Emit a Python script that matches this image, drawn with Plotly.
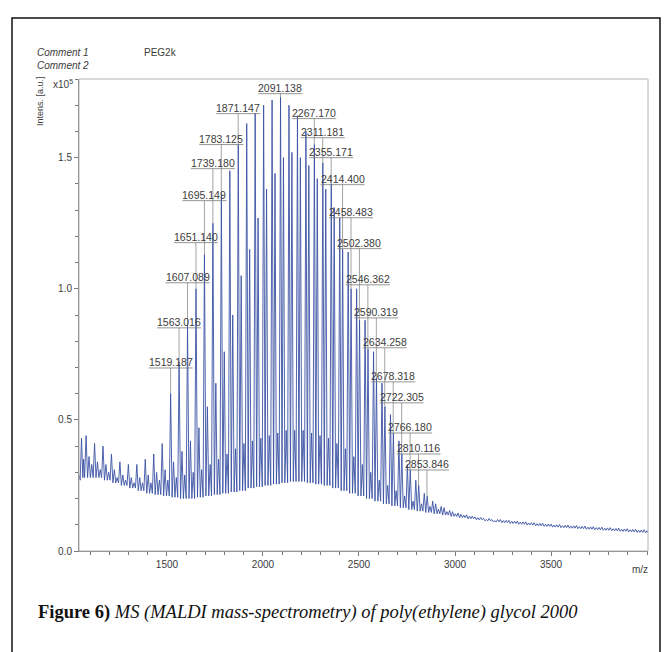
import plotly.graph_objects as go

# ---------------- data ----------------
# m/z of the main oligomer series (spacing ~44 Da, PEG repeat unit)
mz_A = [1078.9, 1123.0, 1167.0, 1211.0, 1255.0, 1299.1, 1343.1, 1387.1, 1431.1, 1475.2,
        1519.2, 1563.2, 1607.2, 1651.3, 1695.3, 1739.3, 1783.3, 1827.4, 1871.4, 1915.4,
        1959.4, 2003.5, 2047.5, 2091.5, 2135.5, 2179.6, 2223.6, 2267.6, 2311.7, 2355.7,
        2399.7, 2443.7, 2487.8, 2531.8, 2575.8, 2619.8, 2663.9, 2707.9, 2751.9, 2795.9,
        2840.0, 2884.0, 2928.0, 2972.1, 3016.1, 3060.1, 3104.1, 3148.2, 3192.2, 3236.2,
        3280.2, 3324.3, 3368.3, 3412.3, 3456.3, 3500.4, 3544.4, 3588.4, 3632.4, 3676.5,
        3720.5, 3764.5, 3808.6, 3852.6, 3896.6, 3940.6, 3984.7]
# intensities (x10^5 a.u.)
peak_A = [0.44, 0.41, 0.40, 0.37, 0.34, 0.33, 0.33, 0.35, 0.37, 0.41,
          0.60, 0.72, 0.86, 1.00, 1.13, 1.25, 1.36, 1.45, 1.55, 1.63,
          1.67, 1.70, 1.72, 1.73, 1.70, 1.66, 1.60, 1.55, 1.48, 1.40,
          1.27, 1.14, 1.00, 0.88, 0.76, 0.64, 0.52, 0.42, 0.33, 0.27,
          0.22, 0.19, 0.17, 0.155, 0.145, 0.138, 0.13, 0.125, 0.12, 0.12,
          0.117, 0.114, 0.111, 0.108, 0.106, 0.103, 0.101, 0.099, 0.097, 0.095,
          0.093, 0.091, 0.089, 0.087, 0.085, 0.083, 0.081]
# second series (+15.2 Da)
shift_B = 15.2
peak_B = [0.36, 0.34, 0.33, 0.31, 0.29, 0.28, 0.28, 0.29, 0.30, 0.31,
          0.34, 0.38, 0.42, 0.47, 0.55, 0.64, 0.76, 0.90, 1.05, 1.15,
          1.27, 1.38, 1.44, 1.50, 1.52, 1.50, 1.47, 1.42, 1.38, 1.31,
          1.15, 1.00, 0.88, 0.77, 0.66, 0.55, 0.45, 0.37, 0.31, 0.25,
          0.21, 0.18, 0.165, 0.15, 0.14, 0.133, 0.127, 0.12, 0.115, 0.116,
          0.113, 0.110, 0.107, 0.104, 0.102, 0.099, 0.097, 0.095, 0.093, 0.091,
          0.089, 0.087, 0.085, 0.083, 0.081, 0.079, 0.077]
# third, small series (+29.5 Da)
shift_C = 29.5
peak_C = [0.33, 0.31, 0.30, 0.28, 0.27, 0.26, 0.26, 0.26, 0.27, 0.27,
          0.28, 0.29, 0.30, 0.31, 0.33, 0.35, 0.37, 0.39, 0.41, 0.42,
          0.43, 0.44, 0.45, 0.46, 0.46, 0.46, 0.45, 0.44, 0.43, 0.41,
          0.39, 0.36, 0.33, 0.30, 0.27, 0.25, 0.23, 0.21, 0.19, 0.18,
          0.17, 0.16, 0.15, 0.142, 0.137, 0.132, 0.128, 0.124, 0.12, 0.117,
          0.114, 0.111, 0.108, 0.105, 0.103, 0.100, 0.098, 0.096, 0.094, 0.092,
          0.090, 0.088, 0.086, 0.084, 0.082, 0.080, 0.078]
# baseline level (valleys) in each 44 Da period
floor_lv = [0.28, 0.28, 0.27, 0.26, 0.25, 0.24, 0.23, 0.22, 0.215, 0.21,
            0.205, 0.20, 0.20, 0.205, 0.21, 0.215, 0.22, 0.225, 0.23, 0.24,
            0.245, 0.25, 0.255, 0.26, 0.265, 0.265, 0.26, 0.255, 0.25, 0.24,
            0.23, 0.22, 0.21, 0.20, 0.19, 0.18, 0.172, 0.165, 0.158, 0.152,
            0.147, 0.142, 0.137, 0.132, 0.127, 0.123, 0.119, 0.115, 0.111, 0.108,
            0.105, 0.102, 0.099, 0.096, 0.094, 0.091, 0.089, 0.087, 0.085, 0.083,
            0.081, 0.079, 0.077, 0.075, 0.073, 0.071, 0.069]
# beginning of the trace before the first full period
lead_mz = [1042, 1048, 1055, 1062, 1066, 1071]
lead_val = [0.29, 0.27, 0.43, 0.28, 0.35, 0.28]

# peak labels
label_text = ["1519.187", "1563.016", "1607.089", "1651.140", "1695.149", "1739.180",
              "1783.125", "1871.147", "2091.138", "2267.170", "2311.181", "2355.171",
              "2414.400", "2458.483", "2502.380", "2546.362", "2590.319", "2634.258",
              "2678.318", "2722.305", "2766.180", "2810.116", "2853.846"]
label_level = [0.698, 0.851, 1.023, 1.176, 1.336, 1.458, 1.550, 1.668, 1.744, 1.649,
               1.576, 1.500, 1.397, 1.271, 1.153, 1.015, 0.889, 0.775, 0.645, 0.565,
               0.450, 0.370, 0.309]

x_ticks = [1500, 2000, 2500, 3000, 3500]
y_ticks = [0.0, 0.5, 1.0, 1.5]
y_tick_text = ["0.0", "0.5", "1.0", "1.5"]

# ---------------- build the trace ----------------
xs = list(lead_mz)
ys = list(lead_val)
for a, ha, hb, hc, fl in zip(mz_A, peak_A, peak_B, peak_C, floor_lv):
    b = a + shift_B
    c = a + shift_C
    xs += [a, a + 7.6, b, b + 7.2, c, c + 7.3]
    ys += [ha, fl, hb, fl, hc, fl]

all_peaks = [(a, h) for a, h in zip(mz_A, peak_A)] + \
            [(a + shift_B, h) for a, h in zip(mz_A, peak_B)]

W, H = 672, 652
L, R, T, B = 79, 648, 79, 551


def px(xp):
    return (xp - L) / (R - L)


def py(yp):
    return (B - yp) / (B - T)


fig = go.Figure()
fig.add_trace(go.Scatter(x=xs, y=ys, mode="lines",
                         line=dict(color="#3b52a4", width=0.9),
                         hoverinfo="skip", showlegend=False))

shapes = []
annotations = []
lab_font = dict(family="Liberation Sans, Arial, sans-serif", size=10.5, color="#3c3c3c")
for txt, lvl in zip(label_text, label_level):
    mz = float(txt)
    top = min(all_peaks, key=lambda p: abs(p[0] - mz))[1]
    shapes.append(dict(type="line", xref="x", yref="y", x0=mz, x1=mz, y0=lvl, y1=top,
                       line=dict(color="#8c8c8c", width=0.8), layer="below"))
    shapes.append(dict(type="line", xref="x", yref="y", xsizemode="pixel", xanchor=mz,
                       x0=-22, x1=22, y0=lvl, y1=lvl,
                       line=dict(color="#7a7a7a", width=0.8)))
    annotations.append(dict(x=mz, y=lvl, xref="x", yref="y", text=txt, showarrow=False,
                            yanchor="bottom", xanchor="center", font=lab_font,
                            borderpad=0, yshift=-1))

# plot frame (light)
shapes.append(dict(type="rect", xref="paper", yref="paper", x0=0, x1=1, y0=0, y1=1,
                   line=dict(color="#b4b4b4", width=1)))
# outer figure frame
shapes.append(dict(type="rect", xref="paper", yref="paper",
                   x0=px(12), x1=px(660), y0=py(690), y1=py(18),
                   line=dict(color="#111111", width=1.5)))

small = dict(family="Liberation Sans, Arial, sans-serif", size=10, color="#3c3c3c")
annotations += [
    dict(x=px(35), y=py(52.5), xref="paper", yref="paper", text="<i>Comment 1</i>",
         showarrow=False, xanchor="left", yanchor="middle", font=small),
    dict(x=px(142), y=py(52.5), xref="paper", yref="paper", text="PEG2k",
         showarrow=False, xanchor="left", yanchor="middle", font=small),
    dict(x=px(35), y=py(66), xref="paper", yref="paper", text="<i>Comment 2</i>",
         showarrow=False, xanchor="left", yanchor="middle", font=small),
    dict(x=px(40), y=py(101), xref="paper", yref="paper", text="Intens. [a.u.]",
         showarrow=False, textangle=-90, xanchor="center", yanchor="middle",
         font=dict(family="Liberation Sans, Arial, sans-serif", size=9, color="#3c3c3c")),
    dict(x=px(51), y=py(84), xref="paper", yref="paper", text="x10<sup>5</sup>",
         showarrow=False, xanchor="left", yanchor="middle", font=small),
    dict(x=px(640), y=py(569), xref="paper", yref="paper", text="m/z",
         showarrow=False, xanchor="center", yanchor="middle", font=small),
    dict(x=px(36), y=py(612), xref="paper", yref="paper",
         text="<b>Figure 6)</b> <i>MS (MALDI mass-spectrometry) of poly(ethylene) glycol 2000</i>",
         showarrow=False, xanchor="left", yanchor="middle",
         font=dict(family="Liberation Serif, serif", size=18.5, color="#111111")),
]

axis_common = dict(showgrid=False, zeroline=False, showline=True, linecolor="#7a7a7a",
                   linewidth=1, ticks="outside", ticklen=4, tickcolor="#7a7a7a",
                   tickfont=dict(family="Liberation Sans, Arial, sans-serif", size=10,
                                 color="#3c3c3c"))
fig.update_layout(
    width=W, height=H,
    margin=dict(l=L, r=W - R, t=T, b=H - B),
    paper_bgcolor="white", plot_bgcolor="white",
    xaxis=dict(range=[1042, 4005], tickvals=x_ticks,
               minor=dict(dtick=100, ticks="outside", ticklen=3, tickcolor="#7a7a7a"),
               **axis_common),
    yaxis=dict(range=[0, 1.8], tickvals=y_ticks, ticktext=y_tick_text,
               minor=dict(dtick=0.1, ticks="outside", ticklen=3, tickcolor="#7a7a7a"),
               **axis_common),
    shapes=shapes, annotations=annotations,
)

fig.write_html("out.html", config={"displayModeBar": False},
               post_script="document.body.style.margin='0';document.body.style.overflow='hidden';")
